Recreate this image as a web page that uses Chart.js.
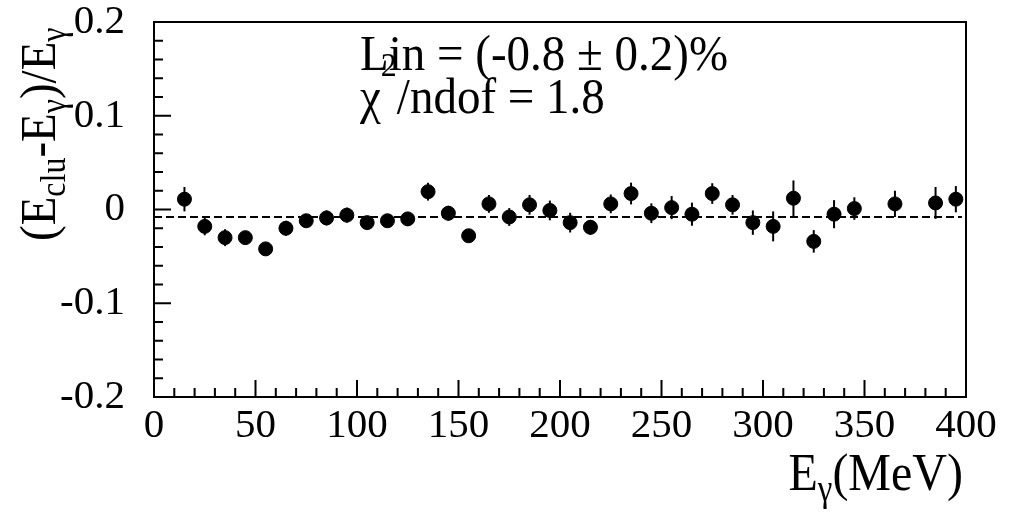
<!DOCTYPE html>
<html>
<head>
<meta charset="utf-8">
<script src="https://cdn.jsdelivr.net/npm/chart.js@4"></script>
<style>
  body { margin: 0; background: #fff; }
  canvas { display: block; }
</style>
</head>
<body>
<canvas id="myChart" width="1016" height="512"></canvas>
<script>
// photon energy (MeV), bin centres
const energies = [15, 25, 35, 45, 55, 65, 75, 85, 95, 105, 115, 125, 135, 145, 155, 165, 175, 185, 195, 205,
    215, 225, 235, 245, 255, 265, 275, 285, 295, 305, 315, 325, 335, 345, 365, 385, 395];
// (Eclu - Egamma) / Egamma
const deviations = [0.011, -0.018, -0.030, -0.030, -0.042, -0.020, -0.012, -0.009, -0.006, -0.014, -0.012, -0.010,
    0.019, -0.004, -0.028, 0.006, -0.008, 0.005, -0.001, -0.014, -0.019, 0.006, 0.017, -0.004, 0.002, -0.005,
    0.017, 0.005, -0.014, -0.018, 0.012, -0.034, -0.005, 0.001, 0.006, 0.007, 0.011];
const errors = [0.013, 0.0095, 0.009, 0.007, 0.007, 0.008, 0.007, 0.008, 0.008, 0.007, 0.007, 0.007,
    0.0095, 0.008, 0.007, 0.0095, 0.0095, 0.0105, 0.0105, 0.0105, 0.008, 0.010, 0.0116, 0.0105, 0.0123, 0.0123,
    0.011, 0.0105, 0.013, 0.016, 0.019, 0.012, 0.015, 0.012, 0.014, 0.017, 0.014];
// constant fit
const fitRange = [0, 398];
const fitValue = -0.008;
const xTicks = [0, 50, 100, 150, 200, 250, 300, 350, 400];
const yTicks = [-0.2, -0.1, 0, 0.1, 0.2];

const serif = '"Liberation Serif", "DejaVu Serif", serif';

// draw text pieces with sub/superscripts along the baseline
function drawPieces(ctx, pieces, size) {
    let cx = 0;
    for (const p of pieces) {
        const s = p.shift ? Math.round(size * 0.68) : size;
        ctx.font = s + 'px ' + serif;
        ctx.fillText(p.t, cx, p.shift ? p.shift : 0);
        cx += ctx.measureText(p.t).width;
    }
    return cx;
}
function piecesWidth(ctx, pieces, size) {
    let w = 0;
    for (const p of pieces) {
        const s = p.shift ? Math.round(size * 0.68) : size;
        ctx.font = s + 'px ' + serif;
        w += ctx.measureText(p.t).width;
    }
    return w;
}

const rootStyle = {
    id: 'rootStyle',
    beforeDatasetsDraw(chart) {
        const ctx = chart.ctx;
        const x = chart.scales.x;
        const y = chart.scales.y;
        ctx.save();
        ctx.strokeStyle = '#000';
        ctx.lineWidth = 2;
        for (let i = 0; i < energies.length; i++) {
            const px = x.getPixelForValue(energies[i]);
            ctx.beginPath();
            ctx.moveTo(px, y.getPixelForValue(deviations[i] - errors[i]));
            ctx.lineTo(px, y.getPixelForValue(deviations[i] + errors[i]));
            ctx.stroke();
        }
        ctx.restore();
    },
    afterDraw(chart) {
        const ctx = chart.ctx;
        const a = chart.chartArea;
        const x = chart.scales.x;
        const y = chart.scales.y;
        ctx.save();
        ctx.strokeStyle = '#000';
        ctx.fillStyle = '#000';
        ctx.lineWidth = 2;
        ctx.strokeRect(a.left, a.top, a.right - a.left, a.bottom - a.top);

        // ticks, pointing inwards
        ctx.beginPath();
        for (let i = -10; i <= 10; i++) {
            const py = y.getPixelForValue(i * 0.02);
            const len = i % 5 === 0 ? 17 : 9;
            ctx.moveTo(a.left, py);
            ctx.lineTo(a.left + len, py);
        }
        for (let i = 0; i <= 40; i++) {
            const px = x.getPixelForValue(i * 10);
            const len = i % 5 === 0 ? 17 : 9;
            ctx.moveTo(px, a.bottom);
            ctx.lineTo(px, a.bottom - len);
        }
        ctx.stroke();

        ctx.textBaseline = 'alphabetic';
        ctx.textAlign = 'left';

        // fit result
        ctx.save();
        ctx.translate(360, 70);
        ctx.scale(1, 1.06);
        drawPieces(ctx, [{t: 'Lin = (-0.8 \u00b1 0.2)%'}], 47);
        ctx.restore();
        ctx.save();
        ctx.translate(360, 113);
        ctx.scale(1, 1.06);
        drawPieces(ctx, [{t: '\u03c7'}, {t: '2', shift: -35}, {t: '/ndof = 1.8'}], 47);
        ctx.restore();

        // x title
        const xt = [{t: 'E'}, {t: '\u03b3', shift: 10}, {t: '(MeV)'}];
        ctx.save();
        ctx.translate(963 - piecesWidth(ctx, xt, 48), 490);
        ctx.scale(1, 1.12);
        drawPieces(ctx, xt, 48);
        ctx.restore();

        // y title
        ctx.save();
        ctx.translate(55, 241);
        ctx.rotate(-Math.PI / 2);
        ctx.scale(1, 1.1);
        drawPieces(ctx, [{t: '(E'}, {t: 'clu', shift: 9}, {t: '-E'}, {t: '\u03b3', shift: 9},
            {t: ')/E'}, {t: '\u03b3', shift: 9}], 47);
        ctx.restore();

        ctx.restore();
    }
};

const points = energies.map((e, i) => ({x: e, y: deviations[i]}));

new Chart(document.getElementById('myChart'), {
    type: 'scatter',
    data: {
        datasets: [
            {
                type: 'line',
                data: [{x: fitRange[0], y: fitValue}, {x: fitRange[1], y: fitValue}],
                borderColor: '#000',
                borderWidth: 2,
                borderDash: [8, 4],
                pointRadius: 0,
                fill: false
            },
            {
                data: points,
                backgroundColor: '#000',
                borderColor: '#000',
                pointRadius: 7,
                pointHoverRadius: 7
            }
        ]
    },
    options: {
        responsive: false,
        animation: false,
        devicePixelRatio: 1,
        layout: { padding: { top: 22, right: 50, left: 0, bottom: 0 } },
        plugins: { legend: { display: false }, tooltip: { enabled: false } },
        scales: {
            x: {
                type: 'linear',
                min: 0,
                max: 400,
                afterBuildTicks(scale) { scale.ticks = xTicks.map(v => ({value: v})); },
                afterFit(scale) {
                    scale.height = 115;
                    scale.paddingLeft = 0;
                    scale.paddingRight = 0;
                },
                grid: { display: false },
                border: { display: false },
                ticks: {
                    color: '#000',
                    padding: -3,
                    maxRotation: 0,
                    autoSkip: false,
                    font: { family: serif, size: 41 },
                    callback: v => String(v)
                }
            },
            y: {
                min: -0.2,
                max: 0.2,
                afterBuildTicks(scale) { scale.ticks = yTicks.map(v => ({value: v})); },
                afterFit(scale) {
                    scale.width = 154;
                    scale.paddingTop = 0;
                    scale.paddingBottom = 0;
                },
                grid: { display: false },
                border: { display: false },
                ticks: {
                    color: '#000',
                    padding: 21,
                    autoSkip: false,
                    font: { family: serif, size: 41 },
                    callback: v => (Math.abs(v) < 1e-9 ? '0' : v.toFixed(1))
                }
            }
        }
    },
    plugins: [rootStyle]
});
</script>
</body>
</html>
